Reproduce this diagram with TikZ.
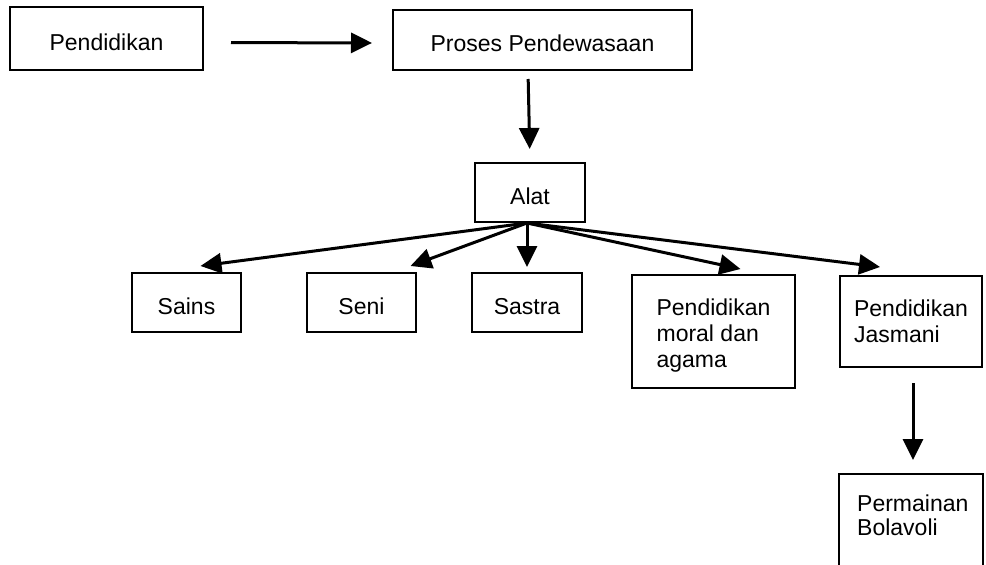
\documentclass[tikz,border=0pt]{standalone}
\usepackage{fontspec}
\setmainfont{Liberation Sans}
\usetikzlibrary{arrows.meta,calc}
\tikzset{
  box/.style={draw, line width=2pt, inner sep=0pt, align=left,
    font=\fontsize{23}{26}\selectfont},
  onebox/.style={box, text height=23pt, text depth=0pt},
  arr/.style={line width=3pt, -{Triangle[length=21pt,width=20pt]}}
}
\begin{document}
\begin{tikzpicture}[x=1pt,y=-1pt]
\useasboundingbox (0,0) rectangle (986,565);
\clip (0,0) rectangle (986,565);
\node (pend) [onebox, minimum width=193, minimum height=63] at (106.5,38.5) {Pendidikan};
\node (proc) [onebox, minimum width=299, minimum height=60] at (542.5,40) {Proses Pendewasaan};
\node (alat) [onebox, minimum width=110, minimum height=59] at (530,192.5) {Alat};
\node (sains) [onebox, minimum width=109, minimum height=59] at (186.5,302.5) {Sains};
\node (seni) [onebox, minimum width=109, minimum height=59] at (361.5,302.5) {Seni};
\node (sastra) [onebox, minimum width=110, minimum height=59] at (527,302.5) {Sastra};
\node (moral) [box, minimum width=163, minimum height=113] at (713.5,331.5) {\rule{0pt}{25pt}Pendidikan\\moral dan\\agama};
\node (jasm) [box, minimum width=142, minimum height=91] at (911,321.5) {Pendidikan\\Jasmani};
\node (perm) [box, minimum width=144, minimum height=150, anchor=north] at (911,473) {};
\node (permtxt) [anchor=north west, inner sep=0pt, align=left, font=\fontsize{23}{24}\selectfont] at (857,495) {Permainan\\Bolavoli};

\draw[arr, shorten <=27pt, shorten >=20pt] ([yshift=-4pt]pend.east) -- ([yshift=-3pt]proc.west);
\draw[arr, shorten <=8pt, shorten >=13pt] ([xshift=-14.5pt]proc.south) -- (alat.north);
\draw[arr] ([xshift=-3pt]alat.south) -- ([xshift=14pt,yshift=6pt]sains.north);
\draw[arr] ([xshift=-3pt]alat.south) -- ([xshift=49pt,yshift=6pt]seni.north);
\draw[arr] ([xshift=-3pt]alat.south) -- ([yshift=5pt]sastra.north);
\draw[arr] ([xshift=-3pt]alat.south) -- ([xshift=27pt,yshift=5pt]moral.north);
\draw[arr] ([xshift=-3pt]alat.south) -- ([xshift=-31pt,yshift=8pt]jasm.north);
\draw[arr, shorten <=15pt, shorten >=13pt] ([xshift=2pt]jasm.south) -- ([xshift=2pt]perm.north);
\end{tikzpicture}
\end{document}
